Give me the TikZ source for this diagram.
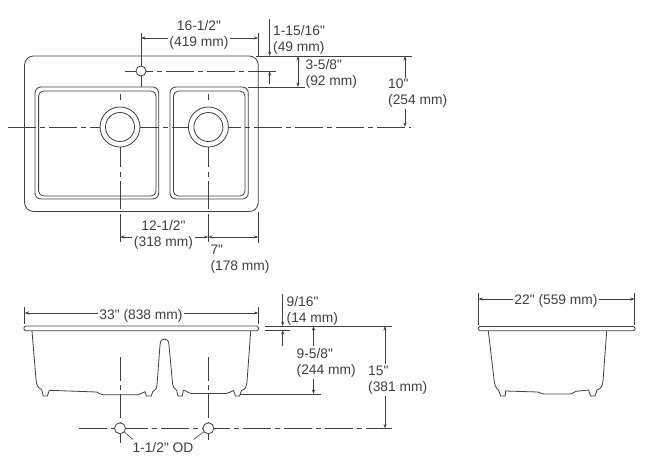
\documentclass[tikz,border=0pt]{standalone}
\usepackage{fontspec}
\newfontfamily\dimfont{Liberation Sans}
\usetikzlibrary{arrows.meta}
\definecolor{inkgray}{gray}{0.25}
\tikzset{
  outline/.style={draw=inkgray, line width=0.8pt},
  thinline/.style={draw=inkgray, line width=0.6pt},
  dimarrow/.style={thinline, -{Stealth[length=4.5pt,width=3pt]}},
  dimboth/.style={thinline, {Stealth[length=4.5pt,width=3pt]}-{Stealth[length=4.5pt,width=3pt]}},
  centerh/.style={thinline, dash pattern=on 28pt off 4pt on 5pt off 4pt},
  centerv/.style={thinline, dash pattern=on 6pt off 7pt on 60pt off 5pt on 5pt off 4pt on 28pt off 5pt on 28pt off 5pt},
  hole/.style={circle, outline, fill=white, inner sep=0pt},
  dimtext/.style={text=inkgray, inner sep=1.5pt, align=left, font=\dimfont\fontsize{13.8}{16}\selectfont}
}
\begin{document}
\begin{tikzpicture}[x=1pt, y=-1pt]
  \useasboundingbox (0,0) rectangle (650,466);

  % top view
  \draw[outline, rounded corners=9pt] (24.5,56) rectangle (258.3,211.5);
  \draw[outline, rounded corners=6pt] (35,87) rectangle (158.7,199);
  \draw[outline, rounded corners=5pt] (38.6,91) rectangle (156,196);
  \draw[outline, rounded corners=6pt] (170,87) rectangle (248.3,199);
  \draw[outline, rounded corners=5pt] (173.4,91) rectangle (245,196);

  \coordinate (faucetL) at (125,71);
  \coordinate (faucetR) at (277,71);
  \coordinate (drainL) at (8,127);
  \coordinate (drainR) at (411,127);
  \draw[centerh] (faucetL) -- (faucetR);
  \draw[centerh] (drainL) -- (drainR);
  \draw[centerv] (120,94) coordinate (leftT) -- (120,243) coordinate (leftB);
  \draw[centerv] (208.4,94) coordinate (rightT) -- (208.4,243) coordinate (rightB);

  \node[hole, minimum size=40pt] (drainA) at (120,127) {};
  \node[hole, minimum size=29pt] (drainAin) at (120,127) {};
  \node[hole, minimum size=40pt] (drainB) at (208.4,127) {};
  \node[hole, minimum size=29pt] (drainBin) at (208.4,127) {};
  \node[hole, minimum size=10pt] (faucet) at (141,71) {};

  % 16-1/2
  \coordinate (widthT) at (141,32.5);
  \coordinate (widthR) at (258.3,32.5);
  \coordinate (widthRb) at (258.3,56);
  \coordinate (widthA) at (141,38);
  \coordinate (widthB) at (258.3,38);
  \coordinate (faucetB) at (141,87);
  \draw[thinline] (widthT) -- (faucet.north);
  \draw[thinline] (faucet.south) -- (faucetB);
  \draw[thinline] (widthR) -- (widthRb);
  \node[dimtext, align=center] (labelwidth) at (199,34.5) {16-1/2"\\(419 mm)};
  \draw[dimarrow] (labelwidth.west |- widthA) -- (widthA);
  \draw[dimarrow] (labelwidth.east |- widthB) -- (widthB);

  % 1-15/16
  \coordinate (rimTop) at (256,56);
  \coordinate (rimEnd) at (411.5,56);
  \coordinate (rimA) at (269.7,19);
  \coordinate (rimB) at (269.7,56);
  \coordinate (holeA) at (269.7,84);
  \coordinate (holeB) at (269.7,71);
  \draw[thinline] (rimTop) -- (rimEnd);
  \draw[dimarrow] (rimA) -- (rimB);
  \draw[dimarrow] (holeA) -- (holeB);
  \node[dimtext, anchor=west] (labelrim) at (271.5,39.5) {1-15/16"\\(49 mm)};

  % 3-5/8
  \coordinate (bowlA) at (248,87);
  \coordinate (bowlB) at (305,87);
  \coordinate (bowlC) at (298,56);
  \coordinate (bowlD) at (298,87);
  \draw[thinline] (bowlA) -- (bowlB);
  \draw[dimboth] (bowlC) -- (bowlD);
  \node[dimtext, anchor=west] (labelbowl) at (304,74) {3-5/8"\\(92 mm)};

  % 10
  \coordinate (tenA) at (405,56);
  \coordinate (tenB) at (405,127);
  \node[dimtext, anchor=west] (labelten) at (386.5,93.5) {10"\\(254 mm)};
  \draw[dimarrow] (labelten.north -| tenA) -- (tenA);
  \draw[dimarrow] (labelten.south -| tenB) -- (tenB);

  % 12-1/2 and 7
  \coordinate (sideA) at (258.3,211.5);
  \coordinate (sideB) at (258.3,243);
  \coordinate (leftD) at (120,237);
  \coordinate (rightD) at (208.4,237);
  \coordinate (sideD) at (258.3,237);
  \draw[thinline] (sideA) -- (sideB);
  \node[dimtext, align=center] (labeldrain) at (163.5,235) {12-1/2"\\(318 mm)};
  \draw[dimarrow] (labeldrain.west |- leftD) -- (leftD);
  \draw[dimarrow] (labeldrain.east |- rightD) -- (rightD);
  \draw[dimboth] (rightD) -- (sideD);
  \node[dimtext, anchor=west] (labelseven) at (208.8,259.5) {7"\\(178 mm)};

  % front view
  \draw[outline, rounded corners=1.5pt] (24,326) -- (258.3,326) -- (258.5,330.7) -- (24,330.7) -- cycle;
  \draw[outline] (32,331) -- (36,379) .. controls (36.5,385) and (37.5,388) .. (41.7,389.5)
    -- (43.3,396) -- (47.3,396) -- (49.3,390.3) -- (96.7,392)
    .. controls (99,393) and (100,394.7) .. (103,394.7) -- (138,394.7)
    .. controls (141,394.7) and (142,392) .. (145,391.7) -- (146.5,396) -- (151.3,396) -- (152.7,391.7)
    .. controls (155,391) and (156.5,389) .. (157,385) -- (160,345)
    .. controls (160.5,340) and (162,339) .. (164,339) .. controls (167,339) and (168.5,340) .. (169,345)
    -- (172.5,383) .. controls (173,387) and (174.5,389.5) .. (176.7,390.3)
    -- (178,396) -- (182.3,396) -- (183.3,390.3)
    .. controls (186,390) and (188,393.5) .. (192,393.5) -- (226,393.5)
    .. controls (229,393.5) and (231,391) .. (233.5,390.5) -- (235.5,396) -- (239.5,396) -- (241.5,390.5)
    .. controls (245,389.5) and (246.5,387) .. (247,382) -- (250.7,331);

  \coordinate (centerL) at (79,428.3);
  \coordinate (centerR) at (391.7,428.3);
  \draw[centerh] (centerL) -- (centerR);
  \coordinate (drainAt) at (120,357);
  \coordinate (drainAb) at (120,443);
  \coordinate (drainBt) at (208.4,357);
  \coordinate (drainBb) at (208.4,440);
  \draw[thinline, dash pattern=on 24pt off 4pt on 5pt off 4pt] (drainAt) -- (drainAb);
  \draw[thinline, dash pattern=on 24pt off 4pt on 5pt off 4pt] (drainBt) -- (drainBb);
  \node[hole, minimum size=11pt] (pipeA) at (120,428.3) {};
  \node[hole, minimum size=11pt] (pipeB) at (208.4,428.3) {};
  \node[dimtext] (labelod) at (163,448) {1-1/2" OD};
  \coordinate (odA) at (133,439.5);
  \coordinate (odB) at (193.5,439.5);
  \draw[thinline] (pipeA) -- (odA);
  \draw[thinline] (pipeB) -- (odB);

  % 33
  \coordinate (wideA) at (24.5,307);
  \coordinate (wideAb) at (24.5,324);
  \coordinate (wideB) at (258.3,307);
  \coordinate (wideBb) at (258.3,324);
  \coordinate (wideC) at (24.5,313);
  \coordinate (wideD) at (258.3,313);
  \draw[thinline] (wideA) -- (wideAb);
  \draw[thinline] (wideB) -- (wideBb);
  \node[dimtext] (labelwide) at (141,316) {33" (838 mm)};
  \draw[dimarrow] (labelwide.west |- wideC) -- (wideC);
  \draw[dimarrow] (labelwide.east |- wideD) -- (wideD);

  % 9/16
  \coordinate (edgeA) at (264.5,326);
  \coordinate (edgeB) at (392,326);
  \coordinate (edgeC) at (264.5,330);
  \coordinate (edgeD) at (289.5,330);
  \coordinate (thickA) at (282.7,294);
  \coordinate (thickB) at (282.7,326);
  \coordinate (thickC) at (282.7,346);
  \coordinate (thickD) at (282.7,330);
  \draw[thinline] (edgeA) -- (edgeB);
  \draw[thinline] (edgeC) -- (edgeD);
  \draw[dimarrow] (thickA) -- (thickB);
  \draw[dimarrow] (thickC) -- (thickD);
  \node[dimtext, anchor=west] (labelthick) at (285,310.5) {9/16"\\(14 mm)};

  % 9-5/8
  \coordinate (depthA) at (240,394);
  \coordinate (depthB) at (320.5,394);
  \coordinate (depthC) at (313.5,326);
  \coordinate (depthD) at (313.5,394);
  \draw[thinline] (depthA) -- (depthB);
  \node[dimtext, anchor=west] (labeldepth) at (295,362.5) {9-5/8"\\(244 mm)};
  \draw[dimarrow] (labeldepth.north -| depthC) -- (depthC);
  \draw[dimarrow] (labeldepth.south -| depthD) -- (depthD);

  % 15
  \coordinate (tallA) at (385,326);
  \coordinate (tallB) at (385,428.3);
  \node[dimtext, anchor=west] (labeltall) at (366.5,380) {15"\\(381 mm)};
  \draw[dimarrow] (labeltall.north -| tallA) -- (tallA);
  \draw[dimarrow] (labeltall.south -| tallB) -- (tallB);

  % side view
  \draw[outline, rounded corners=1.5pt] (478.3,326.5) -- (635,326.5) -- (635,330.7) -- (478.3,330.7) -- cycle;
  \draw[outline] (488.3,331) -- (494,379) .. controls (494.7,385) and (495.5,388) .. (498.5,390)
    -- (500.7,396) -- (505.3,396) -- (505.5,391) -- (538,392)
    .. controls (540,392.5) and (541,394) .. (544,394) -- (570,394)
    .. controls (573,394) and (574,392) .. (576,391.3) -- (588.5,390)
    -- (590.5,396) -- (595,396) -- (597,390)
    .. controls (601,388.5) and (602.5,386) .. (603,381) -- (606.7,331);

  \coordinate (deepA) at (478.3,293);
  \coordinate (deepAb) at (478.3,325);
  \coordinate (deepB) at (634.7,293);
  \coordinate (deepBb) at (634.7,325);
  \coordinate (deepC) at (478.3,299);
  \coordinate (deepD) at (634.7,299);
  \draw[thinline] (deepA) -- (deepAb);
  \draw[thinline] (deepB) -- (deepBb);
  \node[dimtext] (labeldeep) at (556,301) {22" (559 mm)};
  \draw[dimarrow] (labeldeep.west |- deepC) -- (deepC);
  \draw[dimarrow] (labeldeep.east |- deepD) -- (deepD);
\end{tikzpicture}
\end{document}
